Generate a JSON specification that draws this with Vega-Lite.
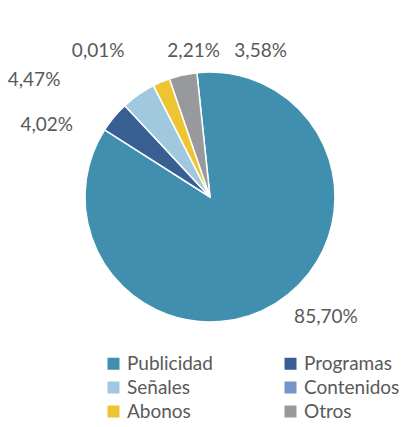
{
  "$schema": "https://vega.github.io/schema/vega-lite/v6.json",
  "width": 420,
  "height": 394,
  "padding": {"left": 0, "top": 0, "right": 0, "bottom": 33},
  "autosize": {"type": "none"},
  "background": "white",
  "data": {
    "values": [
      {"cat": "Publicidad", "ord": 1, "pct": 85.70, "label": "85,70%"},
      {"cat": "Programas", "ord": 2, "pct": 4.02, "label": "4,02%"},
      {"cat": "Señales", "ord": 3, "pct": 4.47, "label": "4,47%"},
      {"cat": "Contenidos", "ord": 4, "pct": 0.01, "label": "0,01%"},
      {"cat": "Abonos", "ord": 5, "pct": 2.21, "label": "2,21%"},
      {"cat": "Otros", "ord": 6, "pct": 3.58, "label": "3,58%"}
    ]
  },
  "encoding": {
    "theta": {"field": "pct", "type": "quantitative", "stack": true, "scale": {"range": [-0.105, 6.178]}},
    "order": {"field": "ord", "type": "quantitative"},
    "color": {
      "field": "cat",
      "type": "nominal",
      "scale": {
        "domain": ["Publicidad", "Señales", "Abonos", "Programas", "Contenidos", "Otros"],
        "range": ["#418FAE", "#A0C8DF", "#EDC432", "#375F91", "#7595C8", "#97999C"]
      },
      "legend": {
        "title": null,
        "orient": "none",
        "legendX": 104,
        "legendY": 354,
        "columns": 2,
        "columnPadding": 68,
        "rowPadding": 4,
        "symbolType": "square",
        "symbolSize": 144,
        "symbolStrokeWidth": 0,
        "labelFont": "Lato",
        "labelFontSize": 19,
        "labelColor": "#595959",
        "labelOffset": 4,
        "padding": 0
      }
    }
  },
  "layer": [
    {"mark": {"type": "arc", "outerRadius": 125, "stroke": "white", "strokeWidth": 1.5}},
    {
      "mark": {"type": "text", "radius": 150, "dx": 37, "dy": -8, "font": "Lato", "fontSize": 19},
      "encoding": {"text": {"condition": {"test": "datum.cat === 'Publicidad'", "field": "label"}, "value": ""}, "color": {"value": "#595959"}}
    },
    {
      "mark": {"type": "text", "radius": 150, "dx": -48, "dy": 24, "font": "Lato", "fontSize": 19},
      "encoding": {"text": {"condition": {"test": "datum.cat === 'Programas'", "field": "label"}, "value": ""}, "color": {"value": "#595959"}}
    },
    {
      "mark": {"type": "text", "radius": 150, "dx": -90, "dy": 6, "font": "Lato", "fontSize": 19},
      "encoding": {"text": {"condition": {"test": "datum.cat === 'Señales'", "field": "label"}, "value": ""}, "color": {"value": "#595959"}}
    },
    {
      "mark": {"type": "text", "radius": 150, "dx": -44, "dy": -12, "font": "Lato", "fontSize": 19},
      "encoding": {"text": {"condition": {"test": "datum.cat === 'Contenidos'", "field": "label"}, "value": ""}, "color": {"value": "#595959"}}
    },
    {
      "mark": {"type": "text", "radius": 150, "dx": 42, "dy": -8, "font": "Lato", "fontSize": 19},
      "encoding": {"text": {"condition": {"test": "datum.cat === 'Abonos'", "field": "label"}, "value": ""}, "color": {"value": "#595959"}}
    },
    {
      "mark": {"type": "text", "radius": 150, "dx": 83, "dy": 0, "font": "Lato", "fontSize": 19},
      "encoding": {"text": {"condition": {"test": "datum.cat === 'Otros'", "field": "label"}, "value": ""}, "color": {"value": "#595959"}}
    }
  ],
  "config": {"view": {"stroke": null}}
}
